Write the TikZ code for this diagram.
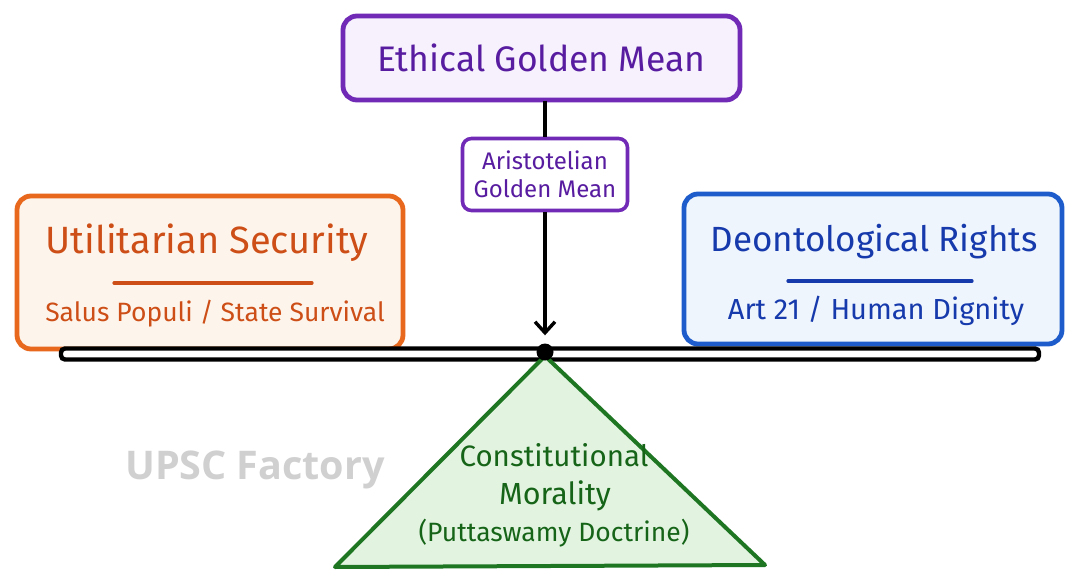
\documentclass[tikz,border=0pt]{standalone}
\usepackage{fontspec}
\setmainfont{Fira Sans}
\newfontfamily\wmfont{Open Sans}
\usetikzlibrary{arrows.meta,positioning}
\definecolor{pBorder}{RGB}{112,42,182}
\definecolor{pText}{RGB}{88,28,160}
\definecolor{pFill}{RGB}{246,241,252}
\definecolor{oBorder}{RGB}{232,104,30}
\definecolor{oText}{RGB}{205,78,22}
\definecolor{oFill}{RGB}{253,245,236}
\definecolor{bBorder}{RGB}{30,92,204}
\definecolor{bText}{RGB}{22,58,172}
\definecolor{bFill}{RGB}{239,245,253}
\definecolor{gBorder}{RGB}{30,118,34}
\definecolor{gText}{RGB}{22,100,24}
\definecolor{gFill}{RGB}{226,244,224}
\definecolor{wmGray}{RGB}{208,208,208}
\tikzset{
  box/.style={draw, line width=4.8pt, rounded corners=14pt, inner sep=0pt},
  conn/.style={draw=black, line width=3.6pt},
  rulebar/.style={line width=3.2pt, line cap=round},
}
\begin{document}
\begin{tikzpicture}[x=1pt,y=-1pt]
\useasboundingbox[fill=white] (0,0) rectangle (1080,583);
% top box
\node[box, draw=pBorder, fill=pFill, minimum width=397pt, minimum height=84pt,
      text=pText, font=\fontsize{35.5}{40}\selectfont] (top) at (541.5,58) {Ethical Golden Mean};
% Aristotelian box
\node[box, draw=pBorder, fill=white, line width=3.6pt, rounded corners=9pt,
      minimum width=165pt, minimum height=72pt, align=center,
      text=pText, font=\fontsize{24}{28}\selectfont] (arist) at (545,174.5) {Aristotelian\\Golden Mean};
% left box
\node[box, draw=oBorder, fill=oFill, minimum width=386pt, minimum height=153pt] (left) at (210,272.5) {};
\node[text=oText, font=\fontsize{38}{42}\selectfont] (ltitle) at (207,243) {Utilitarian Security};
\coordinate (lr1) at (114,283);
\coordinate (lr2) at (312,283);
\draw[rulebar, oText] (lr1) -- (lr2);
\node[text=oText, font=\fontsize{26.5}{30}\selectfont] (lsub) at (215,314) {Salus Populi / State Survival};
% right box
\node[box, draw=bBorder, fill=bFill, minimum width=378pt, minimum height=150pt] (right) at (873,269) {};
\node[text=bText, font=\fontsize{35}{40}\selectfont] (rtitle) at (874,242) {Deontological Rights};
\coordinate (rr1) at (788,281);
\coordinate (rr2) at (972,281);
\draw[rulebar, bText] (rr1) -- (rr2);
\node[text=bText, font=\fontsize{29}{33}\selectfont] (rsub) at (876,311) {Art 21 / Human Dignity};
% beam
\node[draw=black, fill=white, line width=4.4pt, rounded corners=4pt, minimum width=978pt,
      minimum height=11pt, inner sep=0pt] (beam) at (550,354) {};
% triangle
\coordinate (apex) at (545,356);
\coordinate (bl) at (335,567);
\coordinate (br) at (765,565);
\draw[draw=gBorder, fill=gFill, line width=4pt, line join=round] (apex) -- (br) -- (bl) -- cycle;
\node[text=gText, font=\fontsize{29.5}{34}\selectfont] (c1) at (554,455) {Constitutional};
\node[text=gText, font=\fontsize{30.5}{34}\selectfont] (c2) at (555,496) {Morality};
\node[text=gText, font=\fontsize{26.5}{30}\selectfont] (c3) at (554,533) {(Puttaswamy Doctrine)};
% pivot
\node[circle, fill=black, minimum size=17pt, inner sep=0pt] (pivot) at (545,352) {};
% connectors
\coordinate (topfoot) at (545,101);
\draw[conn] (topfoot) -- (arist.north);
\draw[conn, -{Straight Barb[length=11pt,width=20pt,line width=3.4pt]}] (arist.south) -- ([yshift=8pt]pivot.north);
% watermark
\node[text=wmGray, font=\wmfont\bfseries\fontsize{39.5}{44}\selectfont] (wm) at (255,470) {UPSC Factory};
\end{tikzpicture}
\end{document}
